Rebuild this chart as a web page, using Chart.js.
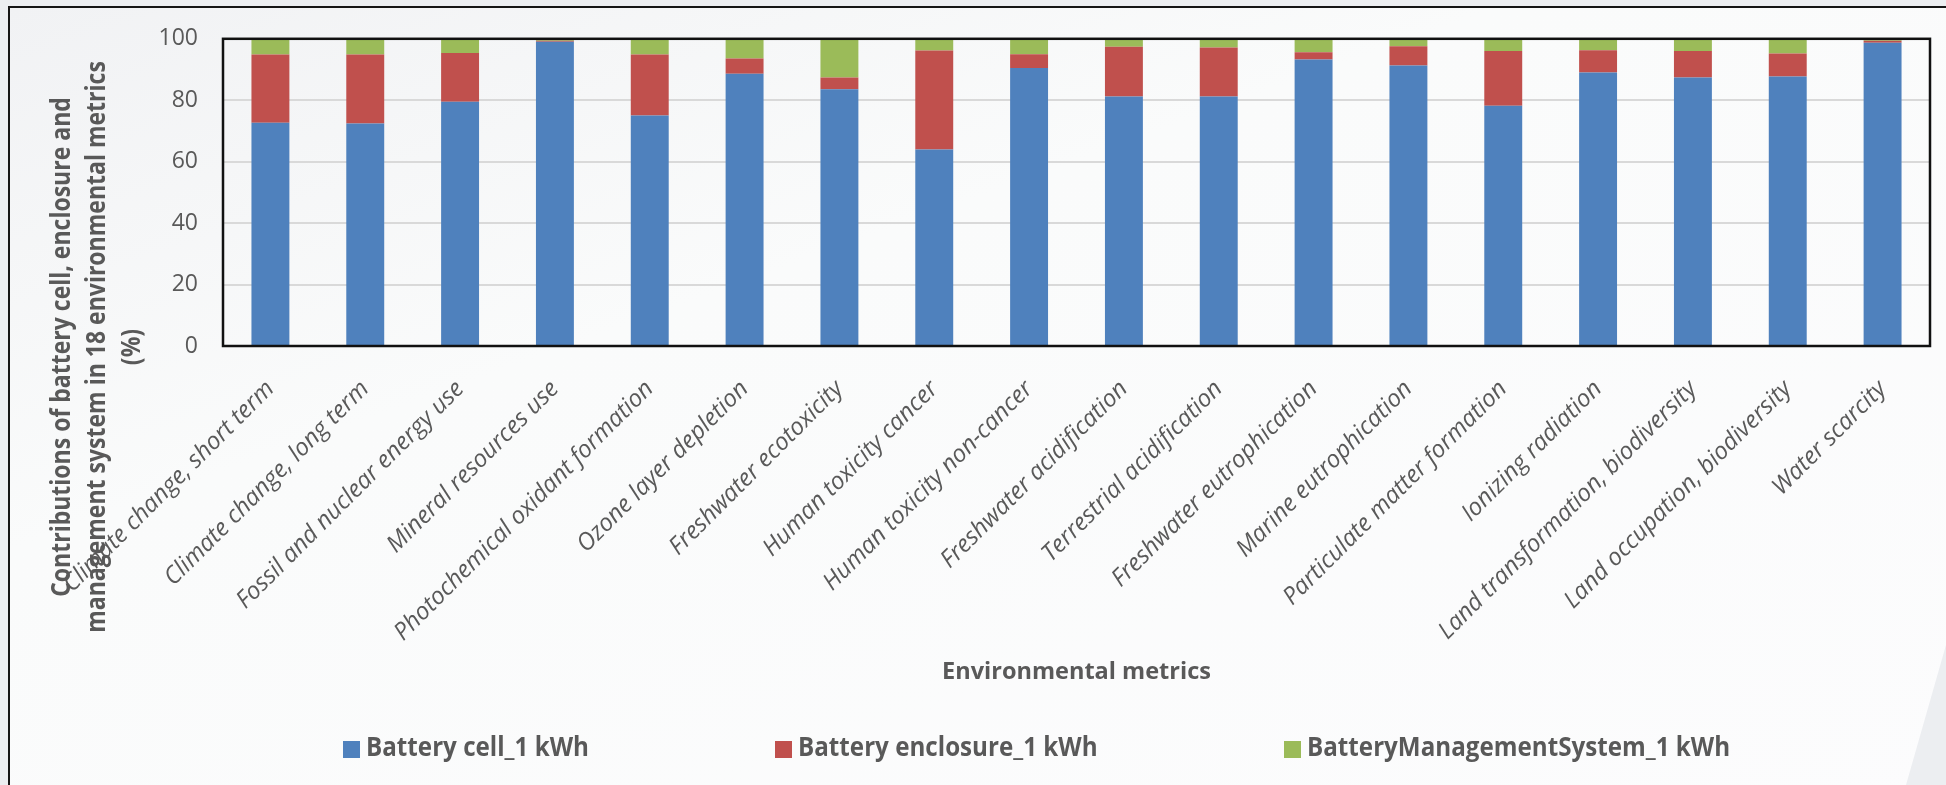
<!DOCTYPE html>
<html>
<head>
<meta charset="utf-8">
<title>Battery pack contributions</title>
<script src="https://cdn.jsdelivr.net/npm/chart.js@4.4.1/dist/chart.umd.min.js"></script>
<style>
  html, body { margin: 0; padding: 0; background: #eceef1; overflow: hidden; }
  #page { position: relative; width: 1946px; height: 785px; overflow: hidden; }
  #frame {
    position: absolute; left: 8px; top: 6px; width: 2000px; height: 820px;
    border-top: 2.5px solid #151515; border-left: 2.5px solid #151515;
    background: linear-gradient(160deg, #f1f2f4 0%, #fafbfb 35%, #fcfcfd 100%);
  }
  #wedge {
    position: absolute; left: 0; top: 0; width: 1946px; height: 785px;
    background: #eceef1;
    clip-path: polygon(1946px 645px, 1946px 785px, 1906px 785px);
  }
  #box { position: absolute; left: 0; top: 0; width: 1946px; height: 785px; }
</style>
</head>
<body>
<div id="page">
  <div id="frame"></div>
  <div id="wedge"></div>
  <div id="box"><canvas id="chartBars"></canvas></div>
</div>
<script>
"use strict";

var metrics = [
  'Climate change, short term',
  'Climate change, long term',
  'Fossil and nuclear energy use',
  'Mineral resources use',
  'Photochemical oxidant formation',
  'Ozone layer depletion',
  'Freshwater ecotoxicity',
  'Human toxicity cancer',
  'Human toxicity non-cancer',
  'Freshwater acidification',
  'Terrestrial acidification',
  'Freshwater eutrophication',
  'Marine eutrophication',
  'Particulate matter formation',
  'Ionizing radiation',
  'Land transformation, biodiversity',
  'Land occupation, biodiversity',
  'Water scarcity'
];

/* shares in % per metric, stacked to 100 */
var batteryCell      = [72.7, 72.4, 79.5, 99.0, 75.0, 88.6, 83.6, 64.0, 90.5, 81.2, 81.2, 93.3, 91.3, 78.2, 89.0, 87.4, 87.7, 98.7];
var batteryEnclosure = [22.2, 22.5, 15.9,  0.4, 19.9,  5.0,  3.8, 32.2,  4.5, 16.2, 16.0,  2.3,  6.3, 17.8,  7.3,  8.6,  7.5,  0.7];
var batteryBms       = [ 5.1,  5.1,  4.6,  0.6,  5.1,  6.4, 12.6,  3.8,  5.0,  2.6,  2.8,  4.4,  2.4,  4.0,  3.7,  4.0,  4.8,  0.6];

var yTicks = [0, 20, 40, 60, 80, 100];

var seriesNames = ['Battery cell_1 kWh', 'Battery enclosure_1 kWh', 'BatteryManagementSystem_1 kWh'];

var yTitleLines = [
  'Contributions of battery cell, enclosure and',
  'management system in 18 environmental metrics',
  '(%)'
];
var xTitle = 'Environmental metrics';

var TEXT = '#595959';

/* black frame round the plot area */
var plotFrame = {
  id: 'plotFrame',
  afterDatasetsDraw: function (chart) {
    var a = chart.chartArea, ctx = chart.ctx;
    ctx.save();
    ctx.strokeStyle = '#111';
    ctx.lineWidth = 2.5;
    ctx.strokeRect(a.left, a.top, a.right - a.left, a.bottom - a.top);
    ctx.restore();
  }
};

/* condensed bold texts: y title, x title, legend */
function condensedText(ctx, text, x, y, sx, align) {
  ctx.save();
  ctx.translate(x, y);
  ctx.scale(sx, 1);
  ctx.textAlign = align;
  ctx.fillText(text, 0, 0);
  ctx.restore();
}

var legendX = [343, 775, 1284];

var titlesAndLegend = {
  id: 'titlesAndLegend',
  afterDraw: function (chart) {
    var ctx = chart.ctx, a = chart.chartArea;
    ctx.save();
    ctx.fillStyle = TEXT;
    ctx.textBaseline = 'middle';

    // y axis title, three rotated lines
    ctx.font = "bold 26px 'Open Sans'";
    var lineX = [63, 98, 133];
    yTitleLines.forEach(function (line, i) {
      ctx.save();
      ctx.translate(lineX[i], 347);
      ctx.rotate(-Math.PI / 2);
      condensedText(ctx, line, 0, 0, 0.885, 'center');
      ctx.restore();
    });

    // x axis title
    ctx.font = "bold 24px 'Open Sans'";
    condensedText(ctx, xTitle, (a.left + a.right) / 2, 672, 0.98, 'center');

    // legend
    ctx.font = "bold 26px 'Open Sans'";
    chart.data.datasets.forEach(function (ds, i) {
      var bx = legendX[i];
      ctx.fillStyle = ds.backgroundColor;
      ctx.fillRect(bx, 741, 17, 17);
      ctx.fillStyle = TEXT;
      condensedText(ctx, ds.label, bx + 23, 749, 0.93, 'left');
    });
    ctx.restore();
  }
};

var chart = new Chart(document.getElementById('chartBars'), {
  type: 'bar',
  data: {
    labels: metrics,
    datasets: [
      { label: seriesNames[0], data: batteryCell,      backgroundColor: '#4f81bd' },
      { label: seriesNames[1], data: batteryEnclosure, backgroundColor: '#c0504d' },
      { label: seriesNames[2], data: batteryBms,       backgroundColor: '#9bbb59' }
    ]
  },
  options: {
    responsive: true,
    maintainAspectRatio: false,
    animation: false,
    categoryPercentage: 1,
    barPercentage: 0.4,
    layout: { padding: { left: 0, right: 16, top: 36, bottom: 0 } },
    plugins: {
      legend: { display: false },
      tooltip: { enabled: false }
    },
    scales: {
      x: {
        stacked: true,
        grid: { display: false, drawTicks: false },
        border: { display: false },
        ticks: {
          autoSkip: false,
          minRotation: 45,
          maxRotation: 45,
          padding: 29,
          color: TEXT,
          font: { family: "'Open Sans'", style: 'italic', size: 24 }
        },
        afterFit: function (s) { s.height = 785 - 346; }
      },
      y: {
        stacked: true,
        min: 0,
        max: 100,
        afterBuildTicks: function (s) {
          s.ticks = yTicks.map(function (v) { return { value: v }; });
        },
        grid: { color: '#d9d9d9', lineWidth: 2, drawTicks: false },
        border: { display: false },
        ticks: {
          padding: 25,
          color: TEXT,
          font: { family: "'Open Sans'", size: 23 }
        },
        afterFit: function (s) { s.width = 223; }
      }
    }
  },
  plugins: [plotFrame, titlesAndLegend]
});
</script>
</body>
</html>
